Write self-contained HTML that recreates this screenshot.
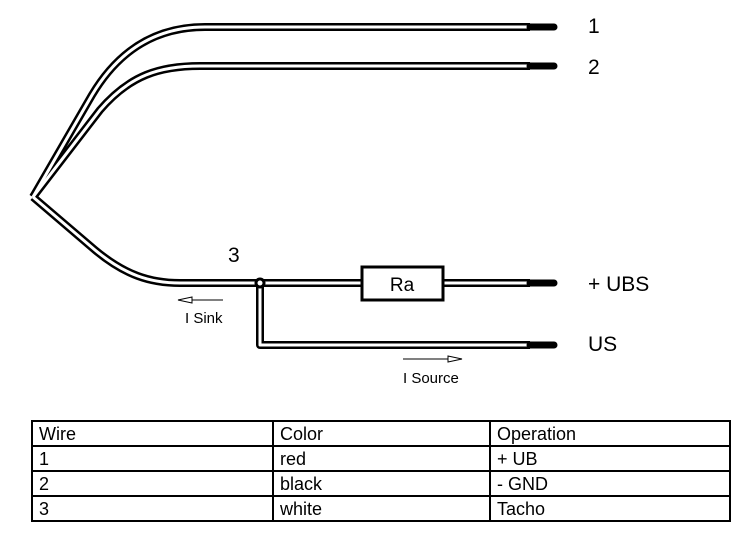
<!DOCTYPE html>
<html><head><style>
html,body{margin:0;padding:0;background:#fff;width:740px;height:543px;overflow:hidden;font-family:"Liberation Sans",Arial,sans-serif}
svg{position:absolute;left:0;top:0}
.t{position:absolute;left:31px;top:420px;border-collapse:collapse}
.t td{border:2px solid #000;padding:0 0 0 6px;font-size:18px;height:23px;line-height:22px}
</style></head><body>
<svg width="740" height="543" viewBox="0 0 740 543">
<g fill="none" stroke-linejoin="round">
<g stroke="#000" stroke-width="8">
<path d="M33,197 L92,95 C120,48 158,27 205,27 L530,27"/>
<path d="M33,197 L100,110 C130,75 160,66 200,66 L530,66"/>
<path d="M33,197 L95,250 C125,275 150,283 180,283 L362,283"/>
<path d="M443,283 L530,283"/>
<path d="M260,283 L260,345 L530,345"/>
</g>
<g stroke="#fff" stroke-width="3">
<path d="M33,197 L92,95 C120,48 158,27 205,27 L530,27"/>
<path d="M33,197 L100,110 C130,75 160,66 200,66 L530,66"/>
<path d="M33,197 L95,250 C125,275 150,283 180,283 L362,283"/>
<path d="M443,283 L530,283"/>
<path d="M260,288 L260,345 L530,345"/>
</g>
<g stroke="#000" stroke-width="7" stroke-linecap="round">
<path d="M530,27 L554,27 M530,66 L554,66 M530,283 L554,283 M530,345 L554,345"/>
</g>
</g>
<circle cx="260" cy="283" r="5.5" fill="#000"/>
<circle cx="260" cy="283" r="2.5" fill="#fff"/>
<rect x="362" y="267" width="81" height="33" fill="#fff" stroke="#000" stroke-width="3"/>
<text x="402" y="291" font-size="19" text-anchor="middle" font-family="Liberation Sans">Ra</text>
<g font-family="Liberation Sans" font-size="21">
<text x="588" y="33">1</text>
<text x="588" y="74">2</text>
<text x="588" y="291">+ UBS</text>
<text x="588" y="351">US</text>
<text x="228" y="262">3</text>
</g>
<g stroke="#000" stroke-width="1" fill="#fff">
<path d="M223,300 L192,300"/>
<path d="M178,300 L192,297 L192,303 Z"/>
<path d="M403,359 L448,359"/>
<path d="M462,359 L448,356 L448,362 Z"/>
</g>
<g font-family="Liberation Sans" font-size="15">
<text x="185" y="323">I Sink</text>
<text x="403" y="383">I Source</text>
</g>
</svg>
<table class="t">
<tr><td style="width:233px">Wire</td><td style="width:209px">Color</td><td style="width:232px">Operation</td></tr>
<tr><td>1</td><td>red</td><td>+ UB</td></tr>
<tr><td>2</td><td>black</td><td>- GND</td></tr>
<tr><td>3</td><td>white</td><td>Tacho</td></tr>
</table>
</body></html>
